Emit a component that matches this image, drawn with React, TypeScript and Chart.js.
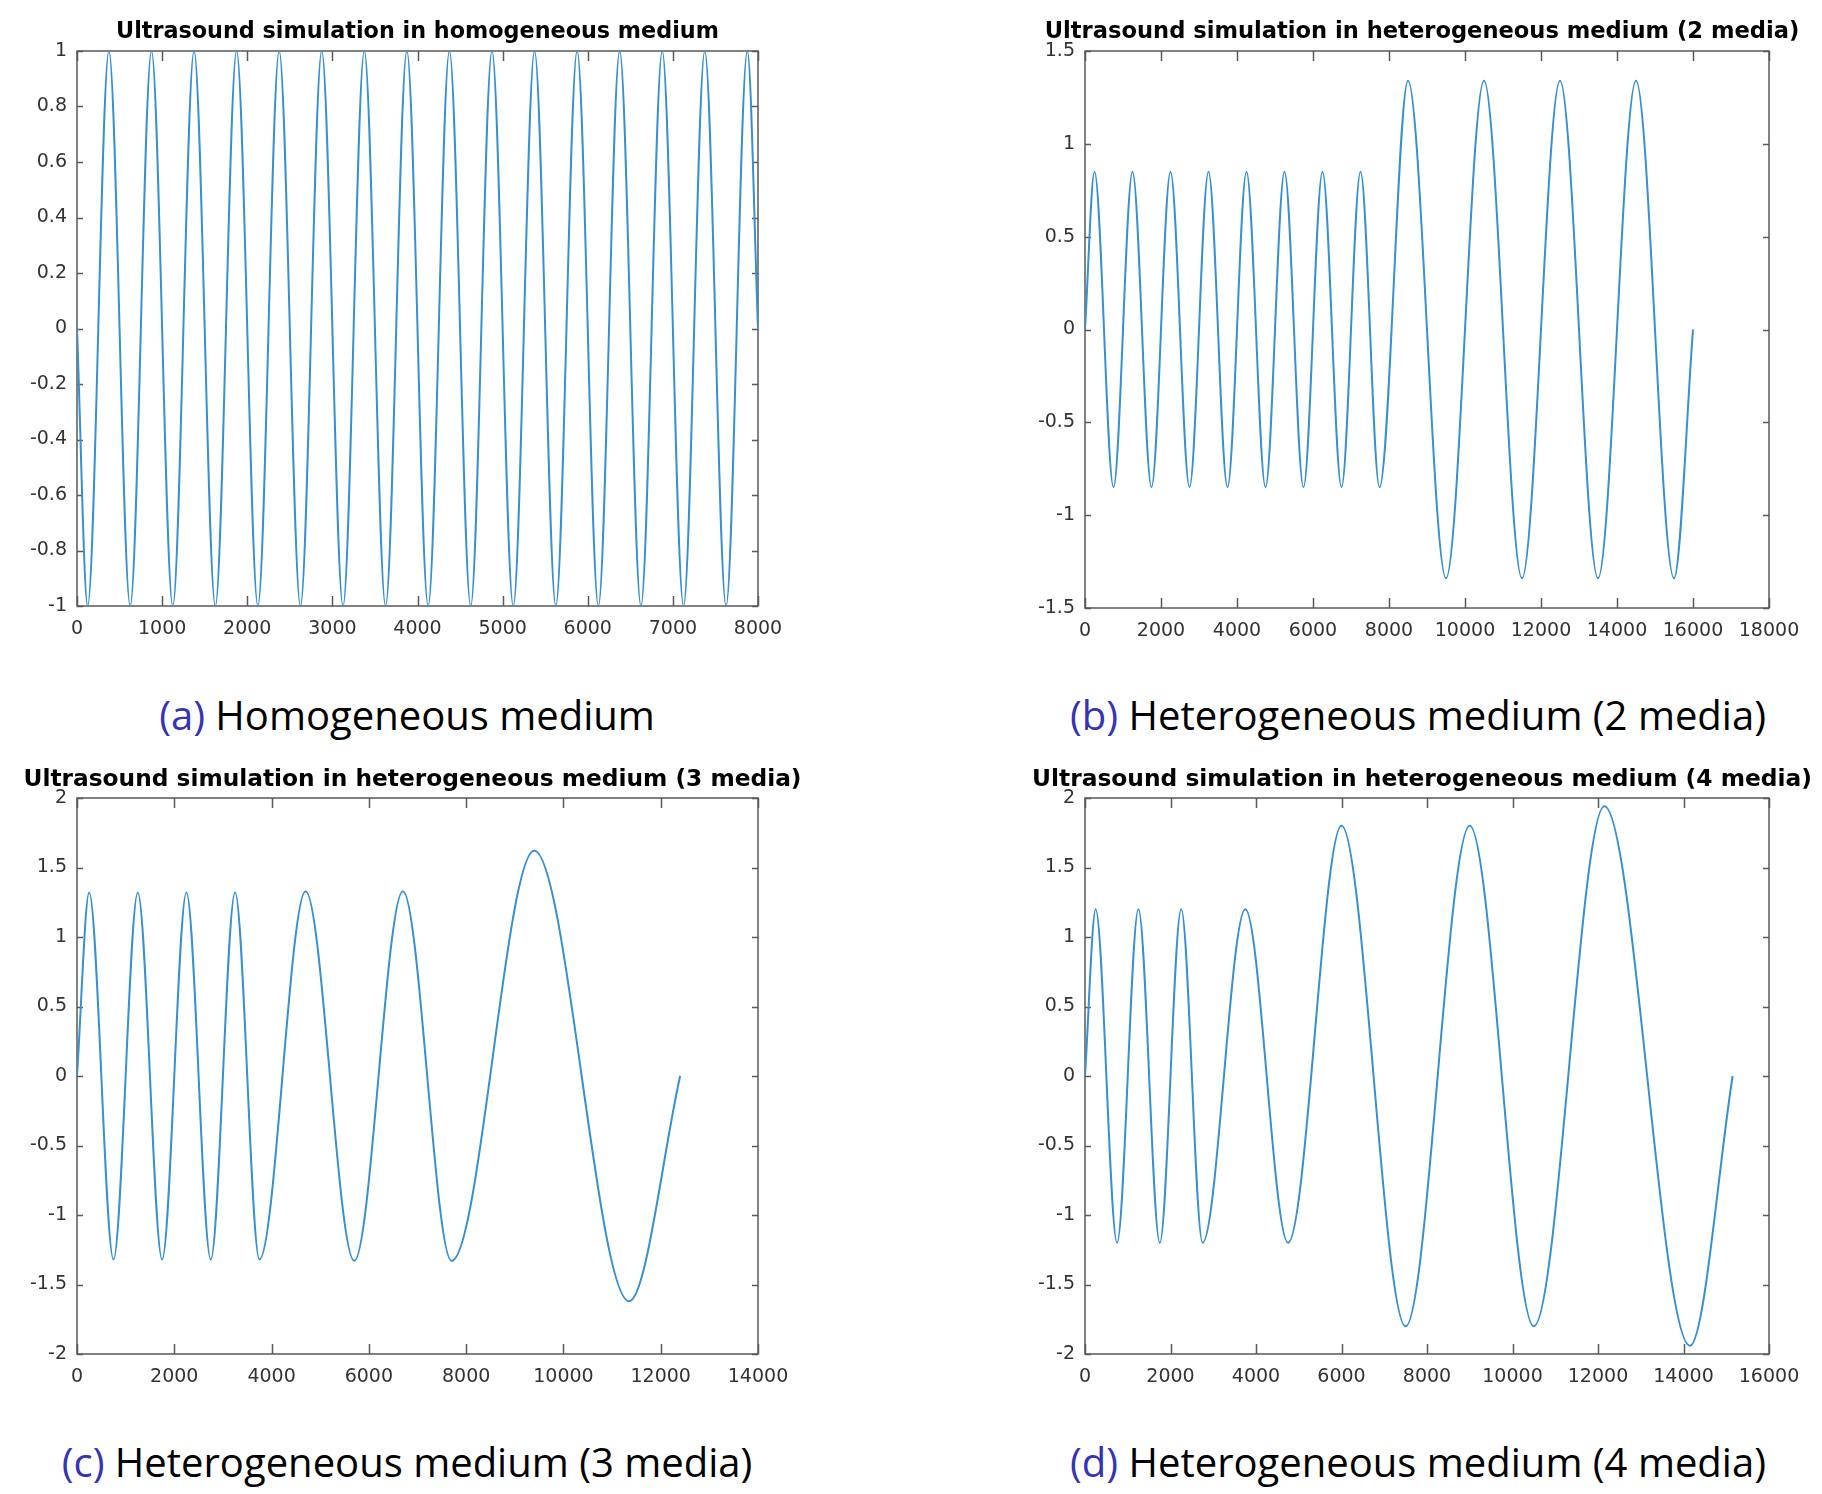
import React, { useEffect, useRef } from 'react';
import { Chart, registerables } from 'chart.js';

Chart.register(...registerables);

// ---------- Titles & captions ----------
const titleA = 'Ultrasound simulation in homogeneous medium';
const titleB = 'Ultrasound simulation in heterogeneous medium (2 media)';
const titleC = 'Ultrasound simulation in heterogeneous medium (3 media)';
const titleD = 'Ultrasound simulation in heterogeneous medium (4 media)';

const captionTagA = '(a)';
const captionA = 'Homogeneous medium';
const captionTagB = '(b)';
const captionB = 'Heterogeneous medium (2 media)';
const captionTagC = '(c)';
const captionC = 'Heterogeneous medium (3 media)';
const captionTagD = '(d)';
const captionD = 'Heterogeneous medium (4 media)';

// ---------- Tick values ----------
const aXTicks = [0, 1000, 2000, 3000, 4000, 5000, 6000, 7000, 8000];
const aYTicks = [-1, -0.8, -0.6, -0.4, -0.2, 0, 0.2, 0.4, 0.6, 0.8, 1];
const bXTicks = [0, 2000, 4000, 6000, 8000, 10000, 12000, 14000, 16000, 18000];
const bYTicks = [-1.5, -1, -0.5, 0, 0.5, 1, 1.5];
const cXTicks = [0, 2000, 4000, 6000, 8000, 10000, 12000, 14000];
const cYTicks = [-2, -1.5, -1, -0.5, 0, 0.5, 1, 1.5, 2];
const dXTicks = [0, 2000, 4000, 6000, 8000, 10000, 12000, 14000, 16000];
const dYTicks = [-2, -1.5, -1, -0.5, 0, 0.5, 1, 1.5, 2];

// ---------- Series (a): start, every trough / peak, end ----------
const aX = [
  0, 125, 375, 625, 875, 1125, 1375, 1625, 1875, 2125, 2375, 2625, 2875, 3125, 3375, 3625, 3875,
  4125, 4375, 4625, 4875, 5125, 5375, 5625, 5875, 6125, 6375, 6625, 6875, 7125, 7375, 7625, 7875,
  8000,
];
const aY = [
  0, -1, 1, -1, 1, -1, 1, -1, 1, -1, 1, -1, 1, -1, 1, -1, 1,
  -1, 1, -1, 1, -1, 1, -1, 1, -1, 1, -1, 1, -1, 1, -1, 1,
  0,
];

// ---------- Series (b) ----------
const bX = [
  0, 250, 750, 1250, 1750, 2250, 2750, 3250, 3750, 4250, 4750, 5250, 5750, 6250, 6750, 7250, 7750,
  8500, 9500, 10500, 11500, 12500, 13500, 14500, 15500,
  16000,
];
const bY = [
  0, 0.85, -0.85, 0.85, -0.85, 0.85, -0.85, 0.85, -0.85, 0.85, -0.85, 0.85, -0.85, 0.85, -0.85, 0.85, -0.85,
  1.34, -1.34, 1.34, -1.34, 1.34, -1.34, 1.34, -1.34,
  0,
];

// ---------- Series (c) ----------
const cX = [
  0, 250, 750, 1250, 1750, 2250, 2750, 3250, 3750,
  4700, 5700, 6700, 7700,
  9400, 11350,
  12400,
];
const cY = [
  0, 1.32, -1.32, 1.32, -1.32, 1.32, -1.32, 1.32, -1.32,
  1.33, -1.33, 1.33, -1.33,
  1.62, -1.62,
  0,
];

// ---------- Series (d) ----------
const dX = [
  0, 250, 750, 1250, 1750, 2250, 2750,
  3750, 4750,
  6000, 7500, 9000, 10500,
  12150, 14150,
  15150,
];
const dY = [
  0, 1.2, -1.2, 1.2, -1.2, 1.2, -1.2,
  1.2, -1.2,
  1.8, -1.8, 1.8, -1.8,
  1.94, -1.94,
  0,
];

// ---------- Styles ----------
const LINE_COLOR = '#3790d1';
const AXIS_COLOR = '#5a5a5a';
const TICK_COLOR = '#333333';
const TAG_COLOR = '#3434b4';
const X_TICK_LEN = 10;
const Y_TICK_LEN = 6;

const boxPlugin = {
  id: 'matlabBox',
  beforeDatasetsDraw(chart: any) {
    const { ctx, chartArea: a } = chart;
    const xs = chart.scales.x;
    const ys = chart.scales.y;
    ctx.save();
    ctx.strokeStyle = AXIS_COLOR;
    ctx.lineWidth = 1.5;
    ctx.beginPath();
    xs.ticks.forEach((t: any) => {
      const px = Math.round(xs.getPixelForValue(t.value)) + 0.5;
      ctx.moveTo(px, a.bottom);
      ctx.lineTo(px, a.bottom - X_TICK_LEN);
      ctx.moveTo(px, a.top);
      ctx.lineTo(px, a.top + X_TICK_LEN);
    });
    ys.ticks.forEach((t: any) => {
      const py = Math.round(ys.getPixelForValue(t.value)) + 0.5;
      ctx.moveTo(a.left, py);
      ctx.lineTo(a.left + Y_TICK_LEN, py);
      ctx.moveTo(a.right, py);
      ctx.lineTo(a.right - Y_TICK_LEN, py);
    });
    ctx.stroke();
    ctx.strokeRect(a.left, a.top, a.right - a.left, a.bottom - a.top);
    ctx.restore();
  },
};

type PanelProps = {
  left: number;
  top: number;
  width: number;
  height: number;
  sideL: number;
  sideR: number;
  xAxisH: number;
  title: string;
  titleSize: number;
  xs: number[];
  ys: number[];
  xTicks: number[];
  yTicks: number[];
};

function Panel(p: PanelProps) {
  const ref = useRef<HTMLCanvasElement | null>(null);
  useEffect(() => {
    if (!ref.current) return;
    const tickFont = { family: '"DejaVu Sans", sans-serif', size: 19 };
    const lh = p.titleSize * 1.2;
    const padTop = 32.5 - lh / 2;
    const padBottom = 51 - padTop - lh;
    const chart = new Chart(ref.current, {
      type: 'line',
      data: {
        datasets: [
          {
            data: p.xs.map((x, i) => ({ x, y: p.ys[i] })),
            borderColor: LINE_COLOR,
            borderWidth: 2,
            pointRadius: 0,
            cubicInterpolationMode: 'monotone',
            fill: false,
            yAxisID: 'y',
            xAxisID: 'x',
          },
        ],
      },
      options: {
        animation: false,
        responsive: false,
        devicePixelRatio: 1,
        layout: { padding: 0 },
        plugins: {
          legend: { display: false },
          tooltip: { enabled: false },
          title: {
            display: true,
            text: p.title,
            color: '#000000',
            font: { family: '"DejaVu Sans", sans-serif', size: p.titleSize, weight: 'bold' },
            padding: { top: padTop, bottom: padBottom },
          },
        },
        scales: {
          x: {
            type: 'linear',
            position: 'bottom',
            min: p.xTicks[0],
            max: p.xTicks[p.xTicks.length - 1],
            grid: { display: false, drawTicks: false },
            border: { display: false },
            afterBuildTicks: (s: any) => {
              s.ticks = p.xTicks.map((v) => ({ value: v }));
            },
            afterFit: (s: any) => {
              s.height = p.xAxisH;
            },
            ticks: {
              autoSkip: false,
              maxRotation: 0,
              minRotation: 0,
              padding: 12,
              color: TICK_COLOR,
              font: tickFont,
              callback: (v: any) => String(v),
            },
          },
          y: {
            type: 'linear',
            position: 'left',
            min: p.yTicks[0],
            max: p.yTicks[p.yTicks.length - 1],
            grid: { display: false, drawTicks: false },
            border: { display: false },
            afterBuildTicks: (s: any) => {
              s.ticks = p.yTicks.map((v) => ({ value: v }));
            },
            afterFit: (s: any) => {
              s.width = p.sideL;
            },
            ticks: {
              autoSkip: false,
              padding: 10,
              color: TICK_COLOR,
              font: tickFont,
              callback: (v: any) => String(v),
            },
          },
          y2: {
            type: 'linear',
            position: 'right',
            grid: { display: false, drawTicks: false },
            border: { display: false },
            ticks: { display: false },
            afterFit: (s: any) => {
              s.width = p.sideR;
            },
          },
        },
      } as any,
      plugins: [boxPlugin],
    });
    return () => chart.destroy();
  }, []);
  return (
    <canvas
      ref={ref}
      width={p.width}
      height={p.height}
      style={{ position: 'absolute', left: p.left, top: p.top, width: p.width, height: p.height }}
    />
  );
}

function Caption(props: { cx: number; cy: number; tag: string; text: string }) {
  return (
    <div
      style={{
        position: 'absolute',
        left: props.cx - 450,
        width: 900,
        top: props.cy - 28,
        height: 56,
        lineHeight: '56px',
        textAlign: 'center',
        fontFamily: '"Open Sans", sans-serif',
        fontSize: 40,
        color: '#000',
        whiteSpace: 'nowrap',
      }}
    >
      <span style={{ color: TAG_COLOR }}>{props.tag}</span> {props.text}
    </div>
  );
}

export default function App() {
  return (
    <div
      style={{
        position: 'absolute',
        left: 0,
        top: 0,
        width: 1822,
        height: 1494,
        background: '#ffffff',
        overflow: 'hidden',
      }}
    >
      <Panel left={0} top={0} width={835} height={680} sideL={77} sideR={77} xAxisH={74}
        title={titleA} titleSize={22.3} xs={aX} ys={aY} xTicks={aXTicks} yTicks={aYTicks} />
      <Panel left={1032} top={0} width={780} height={680} sideL={53} sideR={43} xAxisH={72}
        title={titleB} titleSize={22.6} xs={bX} ys={bY} xTicks={bXTicks} yTicks={bYTicks} />
      <Panel left={0} top={747} width={825} height={681} sideL={77} sideR={67} xAxisH={74}
        title={titleC} titleSize={23.3} xs={cX} ys={cY} xTicks={cXTicks} yTicks={cYTicks} />
      <Panel left={1032} top={747} width={780} height={681} sideL={53} sideR={43} xAxisH={74}
        title={titleD} titleSize={23.8} xs={dX} ys={dY} xTicks={dXTicks} yTicks={dYTicks} />
      <Caption cx={407} cy={715} tag={captionTagA} text={captionA} />
      <Caption cx={1418} cy={715} tag={captionTagB} text={captionB} />
      <Caption cx={407} cy={1462} tag={captionTagC} text={captionC} />
      <Caption cx={1418} cy={1462} tag={captionTagD} text={captionD} />
    </div>
  );
}
